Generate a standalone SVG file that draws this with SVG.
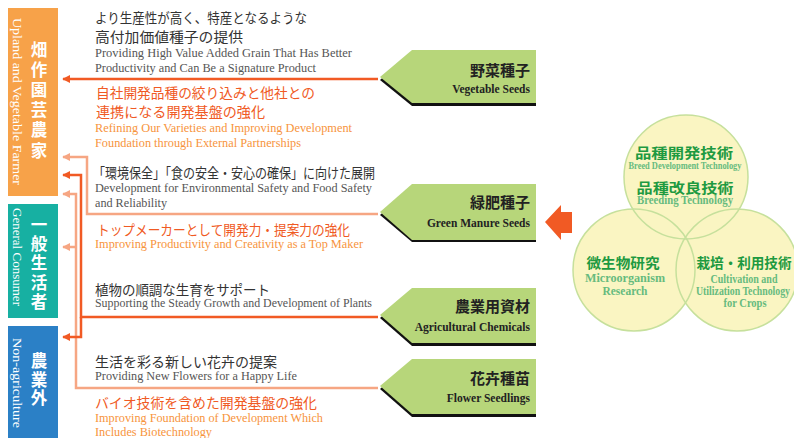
<svg xmlns="http://www.w3.org/2000/svg" width="794" height="438" viewBox="0 0 794 438">
<style>
.jp{font-family:"Noto Sans CJK JP","Noto Sans",sans-serif;font-size:14px;fill:#333}
.jpo{font-family:"Noto Sans CJK JP","Noto Sans",sans-serif;font-size:14px;fill:#F05A24}
.en{font-family:"Liberation Serif",serif;font-size:12.5px;fill:#555}
.eno{font-family:"Liberation Serif",serif;font-size:12.5px;fill:#F7943C}
.bar{font-family:"Noto Sans CJK JP","Noto Sans",sans-serif;font-size:16.5px;font-weight:bold;fill:#fff;text-anchor:middle}
.bare{font-family:"Liberation Serif",serif;font-size:12.5px;fill:#fff}
.pent{fill:#B7D67A}
.shadow{fill:#111}
.pj{font-family:"Noto Sans CJK JP","Noto Sans",sans-serif;font-size:15px;font-weight:bold;fill:#222;text-anchor:end}
.pe{font-family:"Liberation Serif",serif;font-size:11.5px;font-weight:bold;fill:#222;text-anchor:end}
.red{fill:none;stroke:#F15A24;stroke-width:2.5}
.sal{fill:none;stroke:#F6A683;stroke-width:2.5}
.cf{fill:#FAF5C2}
.cs{fill:none;stroke:#C6E09C;stroke-width:1.5}
.cj{font-family:"Noto Sans CJK JP","Noto Sans",sans-serif;font-size:14px;font-weight:bold;fill:#1E9A41;text-anchor:middle}
.ce{font-family:"Liberation Serif",serif;font-size:12px;font-weight:bold;fill:#66BB7E;text-anchor:middle}
</style>
<defs>
<marker id="ar" viewBox="0 0 10 10" refX="9" refY="5" markerWidth="8" markerHeight="8" markerUnits="userSpaceOnUse" orient="auto"><path d="M0,0 L10,5 L0,10 z" fill="#F15A24"/></marker>
<marker id="as" viewBox="0 0 10 10" refX="9" refY="5" markerWidth="8" markerHeight="8" markerUnits="userSpaceOnUse" orient="auto"><path d="M0,0 L10,5 L0,10 z" fill="#F6A683"/></marker>
</defs>

<g id="bar-farmer">
<rect x="8" y="8" width="50" height="188" fill="#F7A249"/>
<text class="bare" transform="translate(13,18) rotate(90)" textLength="167" lengthAdjust="spacingAndGlyphs">Upland and Vegetable Farmer</text>
<text class="bar" x="39" y="56">畑</text>
<text class="bar" x="39" y="76">作</text>
<text class="bar" x="39" y="96">園</text>
<text class="bar" x="39" y="116">芸</text>
<text class="bar" x="39" y="136">農</text>
<text class="bar" x="39" y="157">家</text>
</g>
<g id="bar-consumer">
<rect x="8" y="204" width="50" height="114" fill="#17B0A2"/>
<text class="bare" transform="translate(13,208) rotate(90)" textLength="98" lengthAdjust="spacingAndGlyphs">General Consumer</text>
<text class="bar" x="39" y="231">一</text>
<text class="bar" x="39" y="250">般</text>
<text class="bar" x="39" y="269">生</text>
<text class="bar" x="39" y="289">活</text>
<text class="bar" x="39" y="308">者</text>
</g>
<g id="bar-nonagri">
<rect x="8" y="326" width="50" height="112" fill="#2B80C6"/>
<text class="bare" transform="translate(13,338) rotate(90)" textLength="90" lengthAdjust="spacingAndGlyphs">Non-agriculture</text>
<text class="bar" x="39" y="367">農</text>
<text class="bar" x="39" y="386">業</text>
<text class="bar" x="39" y="404">外</text>
</g>

<g id="connectors">
<path class="red" d="M378,79 H63" marker-end="url(#ar)"/>
<path class="sal" d="M378,214 H87 V157 H63" marker-end="url(#as)"/>
<path class="sal" d="M378,388 H76 V194 H63" marker-end="url(#as)"/>
<path class="sal" d="M76,247 H63" marker-end="url(#as)"/>
<path class="red" d="M378,317 H81 V175 H63" marker-end="url(#ar)"/>
<path class="red" d="M81,317 V337 H63" marker-end="url(#ar)"/>
<polygon id="big-arrow" points="545,222 561,205 561,212 572,212 572,233 561,233 561,240" fill="#F15A24"/>
</g>

<g id="text-vegetable">
<text class="jp" x="95" y="23" textLength="212" lengthAdjust="spacingAndGlyphs">より生産性が高く、特産となるような</text>
<text class="jp" x="95" y="42" textLength="148" lengthAdjust="spacingAndGlyphs">高付加価値種子の提供</text>
<text class="en" x="95" y="57" textLength="257" lengthAdjust="spacingAndGlyphs">Providing High Value Added Grain That Has Better</text>
<text class="en" x="95" y="72" textLength="221" lengthAdjust="spacingAndGlyphs">Productivity and Can Be a Signature Product</text>
<text class="jpo" x="96" y="98" textLength="219" lengthAdjust="spacingAndGlyphs">自社開発品種の絞り込みと他社との</text>
<text class="jpo" x="96" y="117" textLength="169" lengthAdjust="spacingAndGlyphs">連携になる開発基盤の強化</text>
<text class="eno" x="95" y="132" textLength="257" lengthAdjust="spacingAndGlyphs">Refining Our Varieties and Improving Development</text>
<text class="eno" x="95" y="147" textLength="206" lengthAdjust="spacingAndGlyphs">Foundation through External Partnerships</text>
</g>
<g id="text-greenmanure">
<text class="jp" x="93" y="178" textLength="282" lengthAdjust="spacingAndGlyphs">「環境保全」「食の安全・安心の確保」に向けた展開</text>
<text class="en" x="95" y="192" textLength="277" lengthAdjust="spacingAndGlyphs">Development for Environmental Safety and Food Safety</text>
<text class="en" x="95" y="207" textLength="72" lengthAdjust="spacingAndGlyphs">and Reliability</text>
<text class="jpo" x="97" y="235" textLength="253" lengthAdjust="spacingAndGlyphs">トップメーカーとして開発力・提案力の強化</text>
<text class="eno" x="95" y="248" textLength="268" lengthAdjust="spacingAndGlyphs">Improving Productivity and Creativity as a Top Maker</text>
</g>
<g id="text-agri">
<text class="jp" x="95" y="295" textLength="175" lengthAdjust="spacingAndGlyphs">植物の順調な生育をサポート</text>
<text class="en" x="95" y="307" textLength="277" lengthAdjust="spacingAndGlyphs">Supporting the Steady Growth and Development of Plants</text>
</g>
<g id="text-flower">
<text class="jp" x="95" y="367" textLength="182" lengthAdjust="spacingAndGlyphs">生活を彩る新しい花卉の提案</text>
<text class="en" x="95" y="380" textLength="202" lengthAdjust="spacingAndGlyphs">Providing New Flowers for a Happy Life</text>
<text class="jpo" x="95" y="408" textLength="222" lengthAdjust="spacingAndGlyphs">バイオ技術を含めた開発基盤の強化</text>
<text class="eno" x="95" y="422" textLength="228" lengthAdjust="spacingAndGlyphs">Improving Foundation of Development Which</text>
<text class="eno" x="95" y="436" textLength="117" lengthAdjust="spacingAndGlyphs">Includes Biotechnology</text>
</g>

<g id="node-vegetable">
<polygon class="shadow" points="380,80 412,52 536,52 536,106 412,106"/>
<polygon class="pent" points="380,77 412,50 536,50 536,103 412,103"/>
<text class="pj" x="530" y="76">野菜種子</text>
<text class="pe" x="530" y="93">Vegetable Seeds</text>
</g>
<g id="node-greenmanure">
<polygon class="shadow" points="380,215 412,186 536,186 536,242 412,242"/>
<polygon class="pent" points="380,212 412,184 536,184 536,240 412,240"/>
<text class="pj" x="530" y="208">緑肥種子</text>
<text class="pe" x="530" y="227">Green Manure Seeds</text>
</g>
<g id="node-agri">
<polygon class="shadow" points="380,318 412,290 536,290 536,346 412,346"/>
<polygon class="pent" points="380,315 412,288 536,288 536,343 412,343"/>
<text class="pj" x="530" y="312">農業用資材</text>
<text class="pe" x="530" y="331">Agricultural Chemicals</text>
</g>
<g id="node-flower">
<polygon class="shadow" points="380,389 412,361 536,361 536,417 412,417"/>
<polygon class="pent" points="380,386 412,359 536,359 536,414 412,414"/>
<text class="pj" x="530" y="384">花卉種苗</text>
<text class="pe" x="530" y="402">Flower Seedlings</text>
</g>

<g id="node-circles">
<circle class="cf" cx="686" cy="177" r="62"/>
<circle class="cf" cx="634" cy="270" r="61"/>
<circle class="cf" cx="737" cy="270" r="61"/>
<circle class="cs" cx="686" cy="177" r="62"/>
<circle class="cs" cx="634" cy="270" r="61"/>
<circle class="cs" cx="737" cy="270" r="61"/>
</g>
<g id="node-breed">
<text class="cj" x="684" y="158" textLength="98" lengthAdjust="spacingAndGlyphs">品種開発技術</text>
<text class="ce" x="685" y="169" style="font-size:11px" textLength="113" lengthAdjust="spacingAndGlyphs">Breed Development Technology</text>
<text class="cj" x="685" y="193" textLength="97" lengthAdjust="spacingAndGlyphs">品種改良技術</text>
<text class="ce" x="685" y="204" textLength="96" lengthAdjust="spacingAndGlyphs">Breeding Technology</text>
</g>
<g id="node-micro">
<text class="cj" x="623" y="268" textLength="73" lengthAdjust="spacingAndGlyphs">微生物研究</text>
<text class="ce" x="625" y="282" textLength="80" lengthAdjust="spacingAndGlyphs">Microorganism</text>
<text class="ce" x="625" y="295" textLength="45" lengthAdjust="spacingAndGlyphs">Research</text>
</g>
<g id="node-cultivation">
<text class="cj" x="744" y="268" textLength="95" lengthAdjust="spacingAndGlyphs">栽培・利用技術</text>
<text class="ce" x="744" y="283" textLength="67" lengthAdjust="spacingAndGlyphs">Cultivation and</text>
<text class="ce" x="743" y="295" textLength="94" lengthAdjust="spacingAndGlyphs">Utilization Technology</text>
<text class="ce" x="745" y="307" textLength="43" lengthAdjust="spacingAndGlyphs">for Crops</text>
</g>
</svg>
